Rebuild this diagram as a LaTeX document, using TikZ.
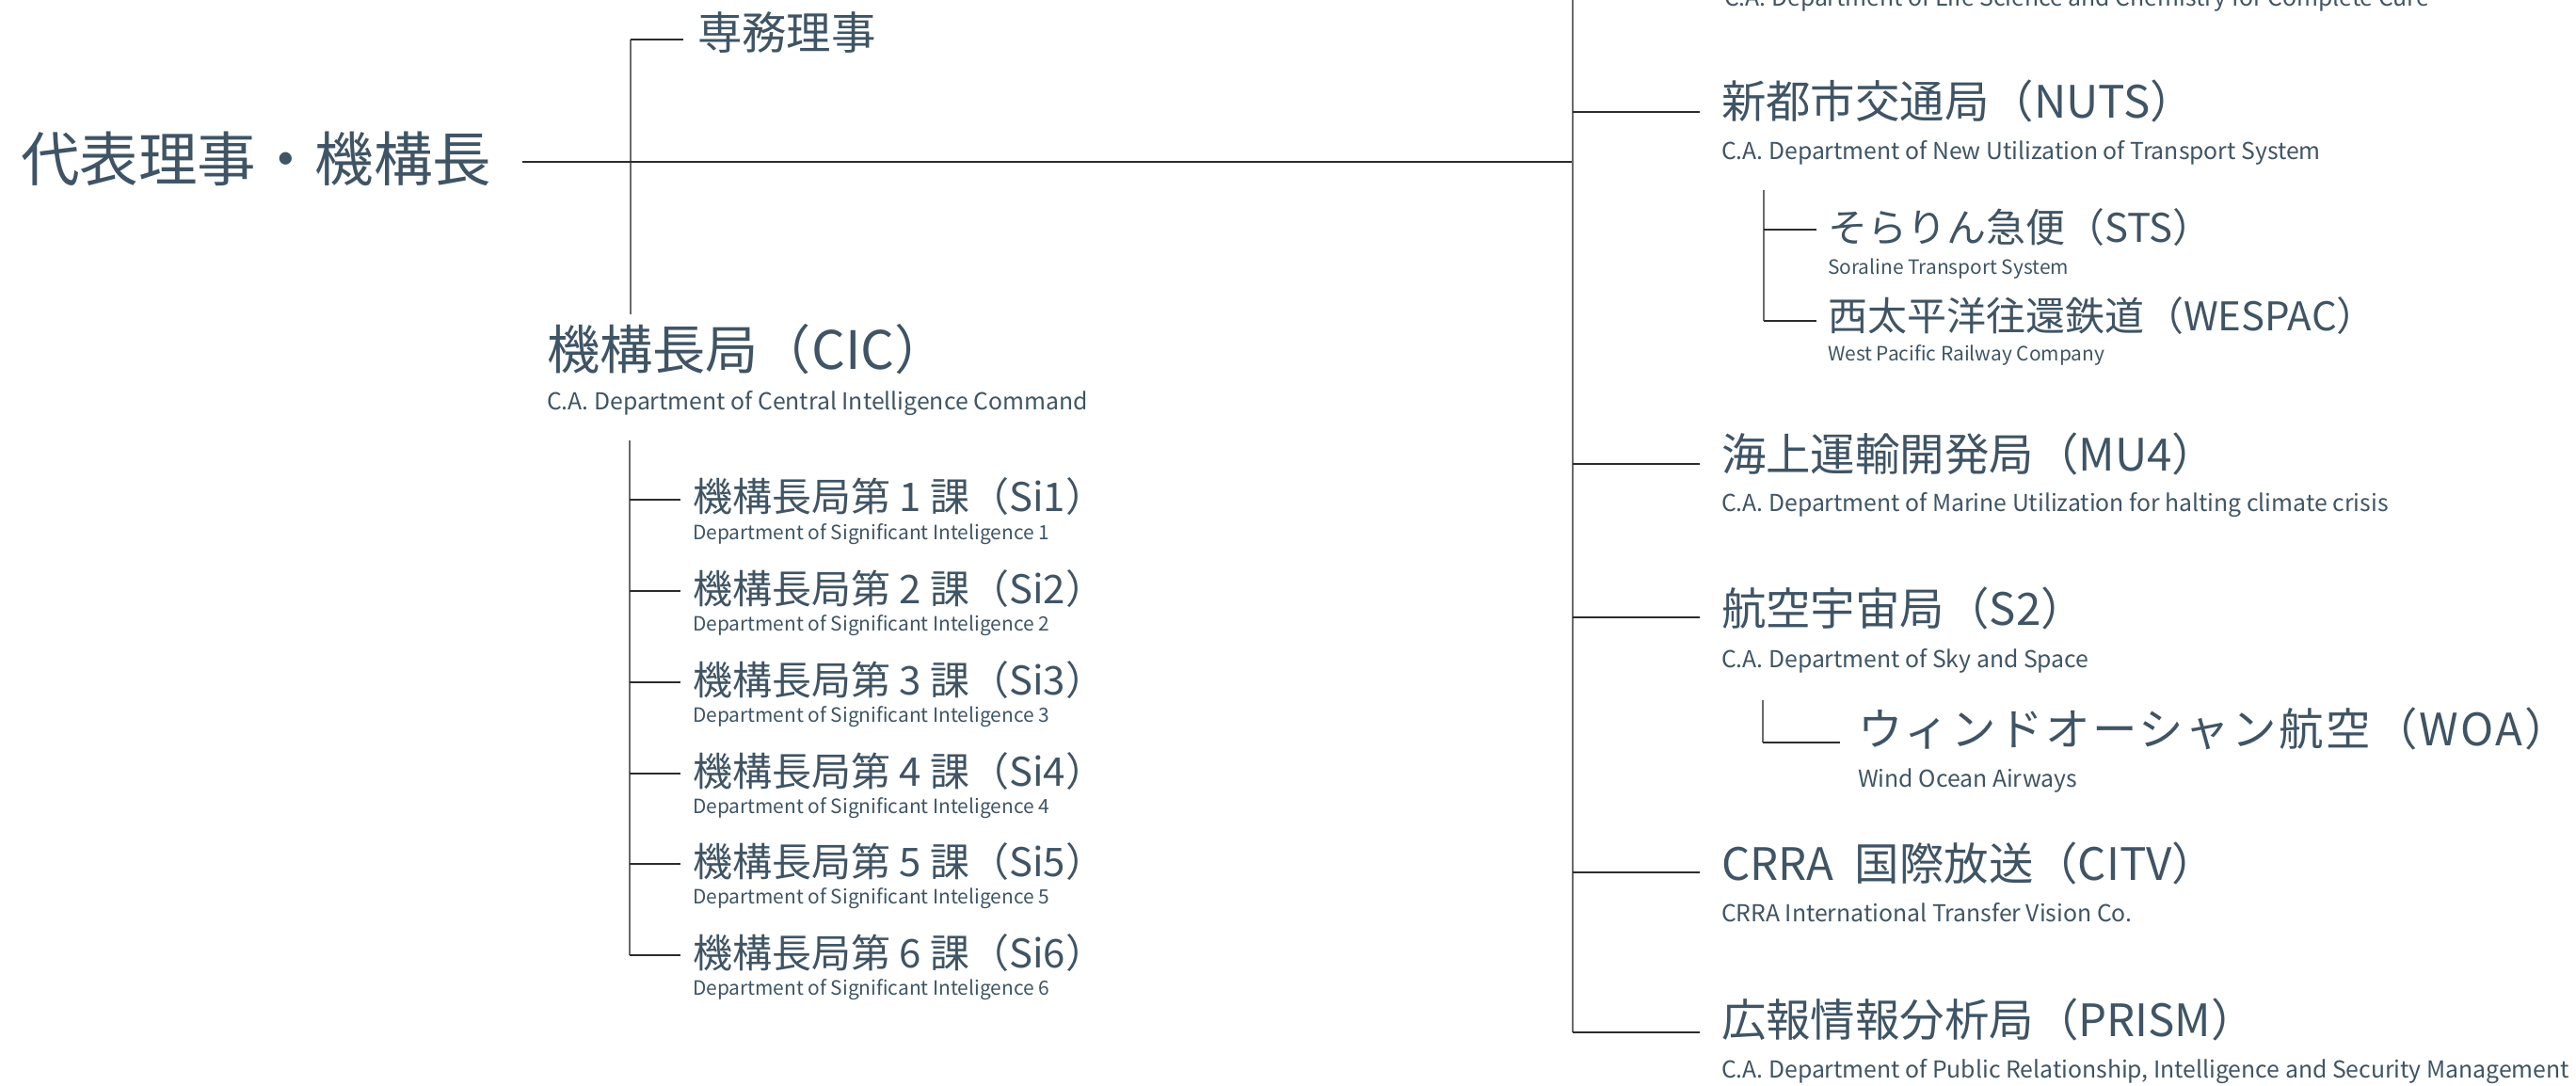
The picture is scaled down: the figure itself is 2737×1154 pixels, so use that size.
\documentclass[tikz,border=0pt]{standalone}
\usepackage{fontspec}
\setmainfont{Noto Sans CJK JP}
\usepackage{tikz}
\usetikzlibrary{positioning}
\definecolor{ink}{HTML}{3F5464}
\definecolor{vline}{HTML}{6A6A6A}
\definecolor{hline}{HTML}{2C2C2C}

\begin{document}
\begin{tikzpicture}[x=0.1mm,y=-0.1mm,semithick]
\tikzstyle{ttl} = [anchor=base west,inner sep=0,text=ink,font=\fontsize{17.8}{20}\selectfont]
\tikzstyle{bhd} = [anchor=base west,inner sep=0,text=ink,font=\fontsize{16}{18}\selectfont]
\tikzstyle{hd} = [anchor=base west,inner sep=0,text=ink,font=\fontsize{13.5}{15}\selectfont]
\tikzstyle{shd} = [anchor=base west,inner sep=0,text=ink,font=\fontsize{11.95}{13}\selectfont]
\tikzstyle{sb} = [anchor=base west,inner sep=0,text=ink,font=\fontsize{7.05}{8}\selectfont]
\tikzstyle{ssb} = [anchor=base west,inner sep=0,text=ink,font=\fontsize{5.95}{7}\selectfont]
\tikzset{vl/.style={draw=vline,line width=0.6pt}}
\tikzset{hl/.style={draw=hline,line width=0.6pt}}
\useasboundingbox (0,0) rectangle (2737,1154);

    % left side
    \node[ttl] (ceo) at (21,193) {代表理事・機構長};
    \node[hd] (sm) at (740,53) {専務理事};
    \node[bhd] (cic) at (580,393) {機構長局（CIC）};
    \node[sb] (cicE) [below=4.3mm of cic.base west,anchor=base west] {C.A. Department of Central Intelligence Command};

    \node[shd] (si1) at (735,544) {機構長局第 1 課（Si1）};
    \node[ssb] (si1E) [below=2.9mm of si1.base west,anchor=base west] {Department of Significant Inteligence 1};
    \node[shd] (si2) at (735,641) {機構長局第 2 課（Si2）};
    \node[ssb] (si2E) [below=2.9mm of si2.base west,anchor=base west] {Department of Significant Inteligence 2};
    \node[shd] (si3) at (735,738) {機構長局第 3 課（Si3）};
    \node[ssb] (si3E) [below=2.9mm of si3.base west,anchor=base west] {Department of Significant Inteligence 3};
    \node[shd] (si4) at (735,835) {機構長局第 4 課（Si4）};
    \node[ssb] (si4E) [below=2.9mm of si4.base west,anchor=base west] {Department of Significant Inteligence 4};
    \node[shd] (si5) at (735,931) {機構長局第 5 課（Si5）};
    \node[ssb] (si5E) [below=2.9mm of si5.base west,anchor=base west] {Department of Significant Inteligence 5};
    \node[shd] (si6) at (735,1028) {機構長局第 6 課（Si6）};
    \node[ssb] (si6E) [below=2.9mm of si6.base west,anchor=base west] {Department of Significant Inteligence 6};

    % right side
    \node[sb] (lscE) at (1831,7) {C.A. Department of Life Science and Chemistry for Complete Cure};
    \node[hd] (nuts) at (1828,126) {新都市交通局（NUTS）};
    \node[sb] (nutsE) [below=4.4mm of nuts.base west,anchor=base west] {C.A. Department of New Utilization of Transport System};
    \node[shd] (sts) at (1941,258) {そらりん急便（STS）};
    \node[ssb] (stsE) [below=3.4mm of sts.base west,anchor=base west] {Soraline Transport System};
    \node[shd] (wsp) at (1941,352) {西太平洋往還鉄道（WESPAC）};
    \node[ssb] (wspE) [below=3.2mm of wsp.base west,anchor=base west] {West Pacific Railway Company};
    \node[hd] (mu4) at (1828,500) {海上運輸開発局（MU4）};
    \node[sb] (mu4E) [below=4.4mm of mu4.base west,anchor=base west] {C.A. Department of Marine Utilization for halting climate crisis};
    \node[hd] (s2) at (1828,664) {航空宇宙局（S2）};
    \node[sb] (s2E) [below=4.5mm of s2.base west,anchor=base west] {C.A. Department of Sky and Space};
    \node[hd] (woa) at (1973,792) {\addfontfeature{LetterSpace=5}ウィンドオーシャン航空（WOA）};
    \node[sb] (woaE) [below=4.4mm of woa.base west,anchor=base west] {Wind Ocean Airways};
    \node[hd] (citv) at (1828,935) {CRRA\hspace{0.25em} 国際放送（CITV）};
    \node[sb] (citvE) [below=4.4mm of citv.base west,anchor=base west] {CRRA International Transfer Vision Co.};
    \node[hd] (prism) at (1828,1101) {広報情報分析局（PRISM）};
    \node[sb] (prismE) [below=4.4mm of prism.base west,anchor=base west] {C.A. Department of Public Relationship, Intelligence and Security Management};

    % junctions
    \coordinate (ltop) at (670,42);
    \coordinate (lbot) at (670,334);
    \coordinate (smj) at (726,42);
    \coordinate (ceoj) at (555,172);
    \coordinate (rtop) at (1671,0);
    \coordinate (rmid) at (1671,172);
    \coordinate (prismj) at (1806,1097);
    \coordinate (nutsj) at (1806,119);
    \coordinate (mu4j) at (1806,493);
    \coordinate (s2j) at (1806,656);
    \coordinate (citvj) at (1806,927);
    \coordinate (cictop) at (669,468);
    \coordinate (si1j) at (723,531);
    \coordinate (si2j) at (723,628);
    \coordinate (si3j) at (723,725);
    \coordinate (si4j) at (723,822);
    \coordinate (si5j) at (723,918);
    \coordinate (si6j) at (723,1015);
    \coordinate (nutstop) at (1874,202);
    \coordinate (stsj) at (1930,244);
    \coordinate (wspj) at (1930,341);
    \coordinate (s2top) at (1873,744);
    \coordinate (woaj) at (1955,789);

    % connectors
    \draw[vl] (ltop) -- (lbot);
    \draw[hl] (ltop) -- (smj);
    \draw[hl] (ceoj) -- (rmid);
    \draw[vl] (rtop) -- (rtop |- prismj);
    \draw[hl] (rtop |- prismj) -- (prismj);
    \draw[hl] (rtop |- nutsj) -- (nutsj);
    \draw[hl] (rtop |- mu4j) -- (mu4j);
    \draw[hl] (rtop |- s2j) -- (s2j);
    \draw[hl] (rtop |- citvj) -- (citvj);
    \draw[vl] (cictop) -- (cictop |- si6j);
    \draw[hl] (cictop |- si1j) -- (si1j);
    \draw[hl] (cictop |- si2j) -- (si2j);
    \draw[hl] (cictop |- si3j) -- (si3j);
    \draw[hl] (cictop |- si4j) -- (si4j);
    \draw[hl] (cictop |- si5j) -- (si5j);
    \draw[hl] (cictop |- si6j) -- (si6j);
    \draw[vl] (nutstop) -- (nutstop |- wspj);
    \draw[hl] (nutstop |- stsj) -- (stsj);
    \draw[hl] (nutstop |- wspj) -- (wspj);
    \draw[vl] (s2top) -- (s2top |- woaj);
    \draw[hl] (s2top |- woaj) -- (woaj);
\end{tikzpicture}
\end{document}
